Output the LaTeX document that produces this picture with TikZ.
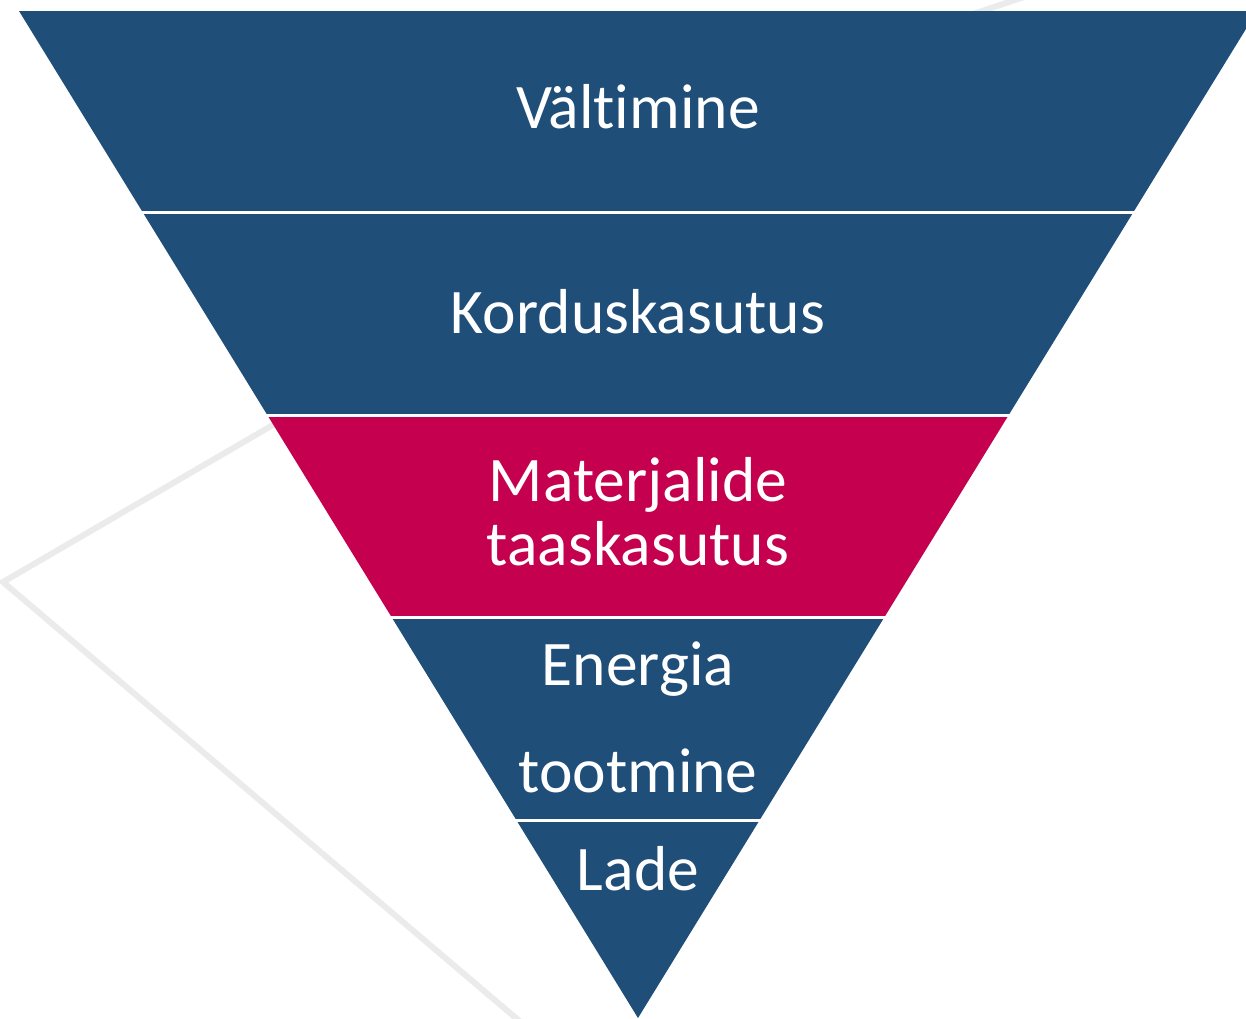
\documentclass[tikz,border=0pt]{standalone}
\usepackage{fontspec}
\setmainfont{Carlito}[Ligatures={NoCommon}]
\definecolor{bandblue}{HTML}{1F4E79}
\definecolor{bandred}{HTML}{C4004F}
\definecolor{ghost}{HTML}{EBEBEB}
\begin{document}
\begin{tikzpicture}[x=1pt,y=-1pt,
  label/.style={anchor=base,text=white,inner sep=0pt,font=\fontsize{63.5}{63.5}\selectfont},
  sep/.style={draw=white,line width=3pt},
  bg/.style={draw=ghost,line width=6pt}]
\useasboundingbox (0,0) rectangle (1246,1018);
\begin{scope}
\clip (0,0) rectangle (1246,1018);
% background light lines
\draw[bg,line join=miter] (290,415) -- (3,582) -- (530,1030);
\draw[bg] (1030,-5) -- (940,25);
% bands
\fill[bandblue] (19,11) -- (1257,11) -- (1133.44,212) -- (142.56,212) -- cycle;
\fill[bandblue] (142.56,212) -- (1133.44,212) -- (1008.7,415) -- (267.3,415) -- cycle;
\fill[bandred] (267.3,415) -- (1008.7,415) -- (884.5,617) -- (391.5,617) -- cycle;
\fill[bandblue] (391.5,617) -- (884.5,617) -- (759.7,820) -- (516.3,820) -- cycle;
\fill[bandblue] (516.3,820) -- (759.7,820) -- (638,1018) -- cycle;
% separators
\draw[sep] (140,212) -- (1136,212);
\draw[sep] (264,415) -- (1012,415);
\draw[sep] (388,617) -- (888,617);
\draw[sep] (513,820) -- (763,820);
\end{scope}
% labels
\node[label] (v) at (638,128.5) {Vältimine};
\node[label] (k) at (638,333) {Korduskasutus};
\node[label] (m1) at (638,501.5) {Materjalide};
\node[label] (m2) at (638,565) {taaskasutus};
\node[label] (e1) at (638,685) {Energia};
\node[label] (e2) at (638,792) {tootmine};
\node[label] (l) at (638,890) {Lade};
\end{tikzpicture}
\end{document}
